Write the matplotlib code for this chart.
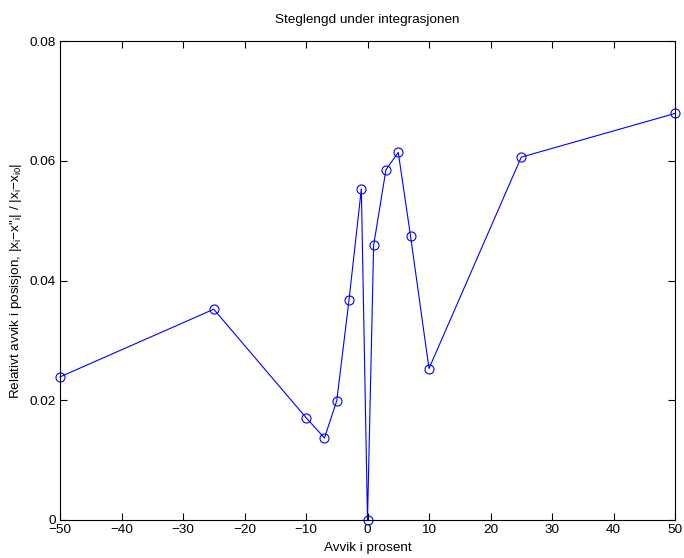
import matplotlib
matplotlib.use("Agg")
import matplotlib.pyplot as plt

# Avvik i prosent og tilhørende relativ steglengde
avvik = [-50, -25, -10, -7, -5, -3, -1, 0, 1, 3, 5, 7, 10, 25, 50]
rel_avvik = [0.0239, 0.0352, 0.0171, 0.0137, 0.0199, 0.0368, 0.0553, 0.0,
             0.0459, 0.0585, 0.0614, 0.0474, 0.0253, 0.0606, 0.0679]

x_ticks = [-50, -40, -30, -20, -10, 0, 10, 20, 30, 40, 50]
y_ticks = [0, 0.02, 0.04, 0.06, 0.08]
y_ticklabels = ["0", "0.02", "0.04", "0.06", "0.08"]

fs = 9.7
plt.rcParams["font.family"] = ["Liberation Sans", "DejaVu Sans"]
plt.rcParams["font.size"] = fs
plt.rcParams["mathtext.fontset"] = "custom"
plt.rcParams["mathtext.rm"] = "Liberation Sans"
plt.rcParams["mathtext.it"] = "Liberation Sans"
plt.rcParams["mathtext.default"] = "regular"

fig = plt.figure(figsize=(6.84, 5.58), dpi=100)
ax = fig.add_axes([60 / 684, 1 - 520 / 558, 615 / 684, 479 / 558])

ax.plot(avvik, rel_avvik, color=(0, 0, 1), linewidth=0.8,
        marker="o", markersize=6.5, markerfacecolor="none",
        markeredgecolor=(0, 0, 1), markeredgewidth=0.8, clip_on=False)

ax.set_xlim(-50, 50)
ax.set_ylim(0, 0.08)
ax.set_xticks(x_ticks)
ax.set_xticklabels([str(t).replace("-", "\u2212") for t in x_ticks])
ax.set_yticks(y_ticks)
ax.set_yticklabels(y_ticklabels)
ax.tick_params(direction="in", length=5, width=0.8, top=True, right=True,
               labelsize=fs, pad=3)
for s in ax.spines.values():
    s.set_linewidth(0.8)

ax.set_title("Steglengd under integrasjonen", fontsize=fs, pad=13)
ax.set_xlabel("Avvik i prosent", fontsize=fs, labelpad=4)
ax.set_ylabel("Relativt avvik i posisjon, |x$_i$\u2212x\"$_i$| / |x$_i$\u2212x$_{i0}$|",
              fontsize=fs, labelpad=4)

fig.savefig("out.png", dpi=100)
